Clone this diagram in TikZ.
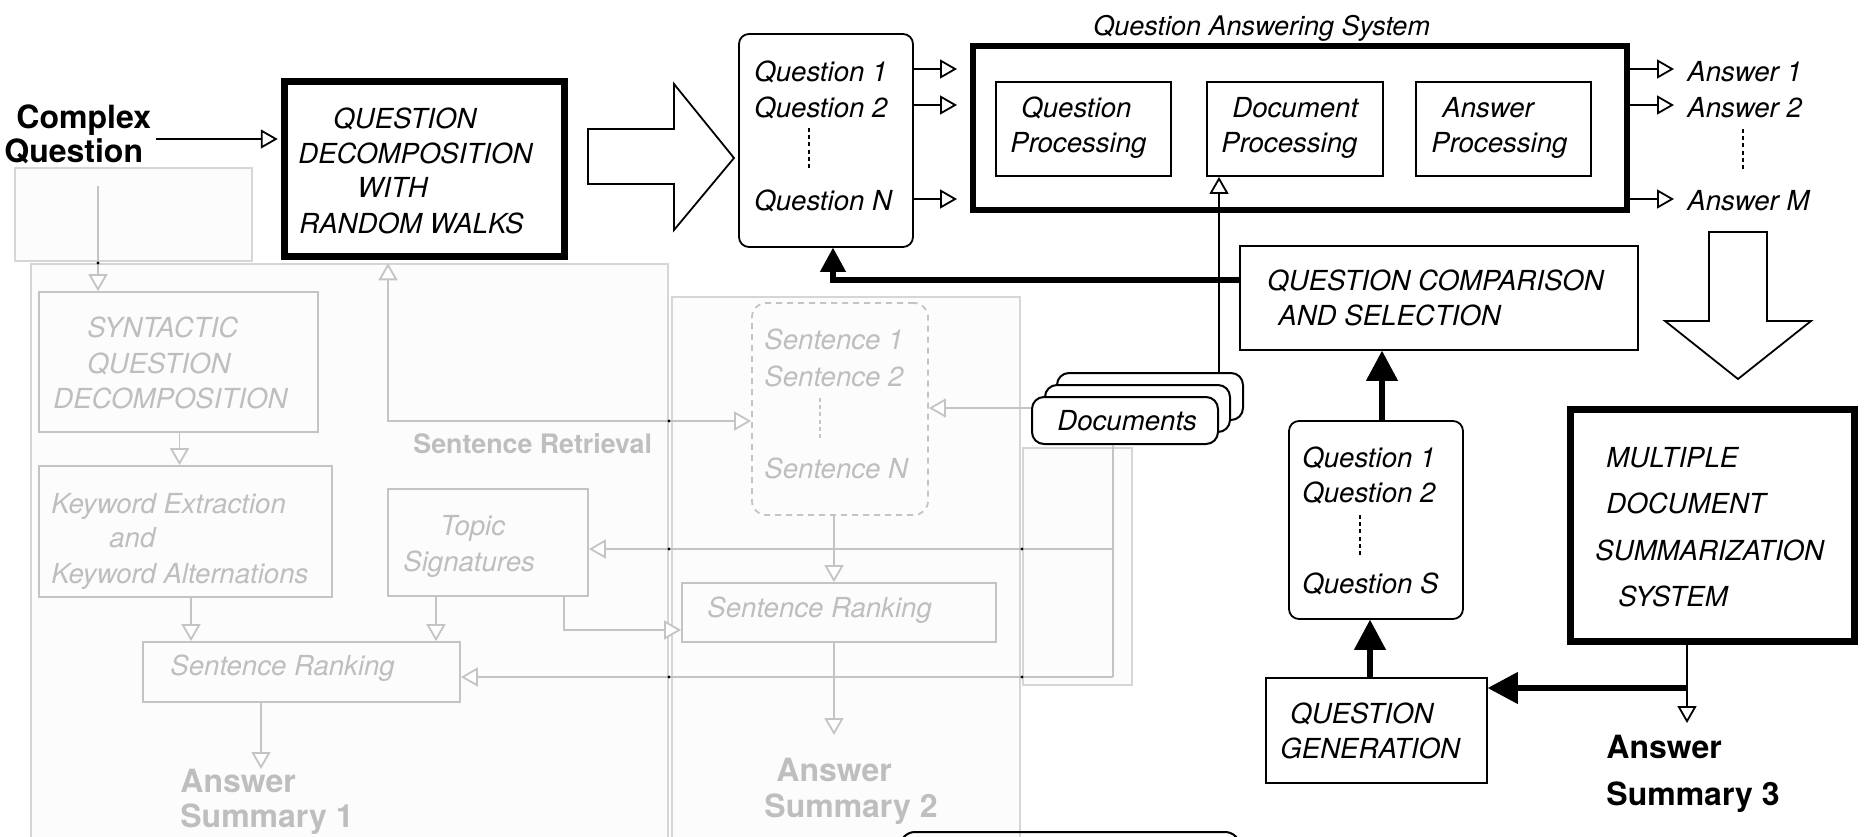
\documentclass[tikz,border=0pt]{standalone}
\usepackage{fontspec}
\setmainfont{TeX Gyre Heros}
\usetikzlibrary{arrows.meta,fit}
\definecolor{ln}{RGB}{196,196,196}
\definecolor{tx}{RGB}{190,190,190}
\definecolor{pn}{RGB}{214,214,214}
\definecolor{pf}{RGB}{252,252,252}
\tikzset{
  box/.style={draw, line width=0.9pt, inner sep=0pt},
  rbox/.style={box, rounded corners=5pt},
  heavy/.style={draw, inner sep=0pt, line width=3.2pt},
  gbox/.style={draw=ln, line width=0.9pt, inner sep=0pt},
  panel/.style={draw=pn, line width=0.6pt, fill=pf, inner sep=0pt},
  docbox/.style={draw, line width=1pt, fill=white, inner sep=0pt, rounded corners=6pt},
  it/.style={font=\itshape\fontsize{13.8}{16}\selectfont, inner sep=0pt, anchor=base west},
  git/.style={it, text=tx},
  bf/.style={font=\bfseries\fontsize{16}{18}\selectfont, inner sep=0pt, anchor=base west},
  gbf/.style={bf, text=tx},
  otip/.tip={Triangle[length=8.5pt,width=9.5pt,fill=white]},
  ttip/.tip={Triangle[length=15pt,width=16pt,line width=0.4pt]},
  oarrow/.style={line width=0.9pt, -otip},
  garrow/.style={draw=ln, line width=0.9pt, -otip},
  gline/.style={draw=ln, line width=0.9pt},
  tarrow/.style={line width=3pt, -ttip},
  vdots/.style={line width=0.6pt, dash pattern=on 2pt off 1.6pt},
  jdot/.style={fill=black},
}
\begin{document}
\begin{tikzpicture}[x=0.5pt,y=-0.5pt]
\useasboundingbox (0,0) rectangle (1864,836);
\clip (0,0) rectangle (1864,836);

% ---------------- grey panels ----------------
\node[panel, fit={(15,168)(252,261)}] (pA) {};
\node[panel, fit={(31,264)(668,880)}] (pB) {};
\node[panel, fit={(672,297)(1020,880)}] (pC) {};
\node[panel, fit={(1023,448)(1132,685)}] (pD) {};

% ---------------- grey boxes ----------------
\node[gbox, fit={(39,292)(318,432)}] (syn) {};
\node[git] (syn1) at (87,337) {SYNTACTIC};
\node[git] (syn2) at (87,373) {QUESTION};
\node[git] (syn3) at (53,408) {DECOMPOSITION};

\node[gbox, fit={(39,466)(332,597)}] (kw) {};
\node[git] (kw1) at (51,513) {Keyword Extraction};
\node[git] (kw2) at (109,547) {and};
\node[git] (kw3) at (51,583) {Keyword Alternations};

\node[gbox, fit={(388,489)(588,596)}] (ts) {};
\node[git] (ts1) at (440,535) {Topic};
\node[git] (ts2) at (403,571) {Signatures};

\node[gbox, fit={(143,642)(460,702)}] (sr1) {};
\node[git] (sr1t) at (170,675) {Sentence Ranking};

\node[gbox, dash pattern=on 3pt off 2.5pt, rounded corners=7pt, fit={(752,303)(928,515)}] (sent) {};
\node[git] (se1) at (764,349) {Sentence 1};
\node[git] (se2) at (764,386) {Sentence 2};
\draw[vdots, draw=ln] (820,398) -- (820,438);
\node[git] (se3) at (764,478) {Sentence N};

\node[gbox, fit={(682,583)(996,642)}] (sr2) {};
\node[git] (sr2t) at (707,617) {Sentence Ranking};

\node[gbf, font=\bfseries\fontsize{13.4}{16}\selectfont] (sret) at (413,453) {Sentence Retrieval};

\node[gbf] (as1a) at (180,792) {Answer};
\node[gbf] (as1b) at (180,827) {Summary 1};
\node[gbf] (as2a) at (776,781) {Answer};
\node[gbf] (as2b) at (764,817) {Summary 2};

% ---------------- black main boxes ----------------
\node[heavy, line width=3.3pt, fit={(284.25,81.25)(564.75,256.75)}] (qdrw) {};
\node[it] (qd1) at (333,128) {QUESTION};
\node[it] (qd2) at (298,163) {DECOMPOSITION};
\node[it] (qd3) at (357,197) {WITH};
\node[it] (qd4) at (299,233) {RANDOM WALKS};

\node[bf] (cq1) at (16,128) {Complex};
\node[bf] (cq2) at (4,162) {Question};

\node[rbox, fit={(739,34)(913,247)}] (qs) {};
\node[it] (q1) at (754,81) {Question 1};
\node[it] (q2) at (754,117) {Question 2};
\draw[vdots] (809,128) -- (809,171);
\node[it] (qn) at (754,210) {Question N};

\node[heavy, line width=3pt, fit={(973,46)(1627,209.5)}] (qa) {};
\node[it, font=\itshape\fontsize{13.5}{16}\selectfont] (qat) at (1093,35) {Question Answering System};
\node[box, fit={(996,82)(1171,176)}] (qp) {};
\node[it] (qp1) at (1021,117) {Question};
\node[it] (qp2) at (1010,152) {Processing};
\node[box, fit={(1207,82)(1383,176)}] (dp) {};
\node[it] (dp1) at (1232,117) {Document};
\node[it] (dp2) at (1221,152) {Processing};
\node[box, fit={(1416,82)(1591,176)}] (ap) {};
\node[it] (ap1) at (1442,117) {Answer};
\node[it] (ap2) at (1431,152) {Processing};

\node[it] (a1) at (1687,81) {Answer 1};
\node[it] (a2) at (1687,117) {Answer 2};
\draw[vdots] (1743,129) -- (1743,171);
\node[it] (am) at (1687,210) {Answer M};

\node[box, fit={(1240,246)(1638,350)}] (qcs) {};
\node[it] (qc1) at (1267,290) {QUESTION COMPARISON};
\node[it] (qc2) at (1278,325) {AND SELECTION};

\node[docbox, fit={(1057,373)(1243,420)}] (doc3) {};
\node[docbox, fit={(1045,385)(1230,432)}] (doc2) {};
\node[docbox, fit={(1032,397)(1218,444)}] (doc1) {};
\node[it] (doct) at (1057,430) {Documents};

\node[rbox, fit={(1289,421)(1463,619)}] (qs2) {};
\node[it] (r1) at (1302,467) {Question 1};
\node[it] (r2) at (1302,502) {Question 2};
\draw[vdots] (1360,515) -- (1360,557);
\node[it] (rs) at (1302,593) {Question S};

\node[box, fit={(1266,678)(1487,783)}] (qg) {};
\node[it] (qg1) at (1290,723) {QUESTION};
\node[it] (qg2) at (1280,758) {GENERATION};

\node[heavy, line width=3.5pt, fit={(1570.5,409.5)(1854.5,641.5)}] (mds) {};
\node[it] (m1) at (1606,467) {MULTIPLE};
\node[it] (m2) at (1606,513) {DOCUMENT};
\node[it] (m3) at (1595,560) {SUMMARIZATION};
\node[it] (m4) at (1618,606) {SYSTEM};

\node[bf] (as3a) at (1606,758) {Answer};
\node[bf] (as3b) at (1606,805) {Summary 3};

\node[draw, line width=1pt, rounded corners=7.5pt, inner sep=0pt, fit={(900,832)(1240,900)}] (bot) {};

% ---------------- block arrows ----------------
\draw[line width=0.9pt, fill=white] (588,129) -- (674,129) -- (674,84) -- (734,158) -- (674,230) -- (674,184) -- (588,184) -- cycle;
\draw[line width=0.9pt, fill=white] (1709,232) -- (1767,232) -- (1767,321) -- (1811,321) -- (1738,379) -- (1665,321) -- (1709,321) -- cycle;

% ---------------- coordinates ----------------
\coordinate (cqo) at (156,139);
\coordinate (pAo) at (98,186);
\coordinate (dj1) at (1113,549);
\coordinate (dj2) at (1113,677);
\coordinate (tsj) at (564,630);
\coordinate (ret) at (388,421);
\coordinate (as1in) at (261,769);
\coordinate (as2in) at (834,735);
\coordinate (mj) at (1687,688);
\coordinate (as3in) at (1687,723);

% ---------------- grey connectors ----------------
\draw[garrow] (pAo) -- (pAo |- syn.north);
\draw[garrow] (syn.south -| 179.5,0) -- (kw.north -| 179.5,0);
\draw[garrow] (kw.south -| 191,0) -- (sr1.north -| 191,0);
\draw[garrow] (ts.south -| 436,0) -- (sr1.north -| 436,0);
\draw[garrow] (ts.south -| tsj) -- (tsj) -- (tsj -| sr2.west);
\draw[gline] (doc1.south -| dj1) -- (dj2);
\draw[garrow] (dj1) -- (dj1 -| ts.east);
\draw[garrow] (dj2) -- (dj2 -| sr1.east);
\draw[garrow] (doc1.west |- 0,408) -- (sent.east |- 0,408);
\draw[garrow] (sent.south -| 834,0) -- (sr2.north -| 834,0);
\draw[garrow] (sr2.south -| as2in) -- (as2in);
\draw[garrow] (sr1.south -| as1in) -- (as1in);
\draw[gline, otip-otip, shorten <=1.6pt] (qdrw.south -| ret) -- (ret) -- (ret -| sent.west);

% junction dots
\foreach \p in {(98,263),(669,421),(669,549),(669,677),(1022,549),(1022,677)}
  \fill[jdot] \p circle (0.8pt);

% ---------------- black connectors ----------------
\draw[oarrow, shorten >=1.6pt] (cqo) -- (cqo -| qdrw.west);
\draw[oarrow, shorten >=6.5pt] (qs.east |- 0,69) -- (qa.west |- 0,69);
\draw[oarrow, shorten >=6.5pt] (qs.east |- 0,105) -- (qa.west |- 0,105);
\draw[oarrow, shorten >=6.5pt] (qs.east |- 0,199) -- (qa.west |- 0,199);
\draw[oarrow, shorten >=6.5pt] (qa.east |- 0,69) -- (a1.west |- 0,69);
\draw[oarrow, shorten >=6.5pt] (qa.east |- 0,105) -- (a2.west |- 0,105);
\draw[oarrow, shorten >=6.5pt] (qa.east |- 0,199) -- (am.west |- 0,199);
\draw[oarrow] (doc3.north -| 1219,0) -- (dp.south -| 1219,0);
\draw[tarrow, -{Triangle[length=12pt,width=13pt,line width=0.4pt]}] (qcs.west |- 0,280) -| ([xshift=3.5pt]qs.south);
\draw[tarrow] (qs2.north -| 1382,0) -- (qcs.south -| 1382,0);
\draw[tarrow] (qg.north -| 1370,0) -- (qs2.south -| 1370,0);
\draw[oarrow] (mds.south -| mj) -- (as3in);
\draw[tarrow] (mj) -- (mj -| qg.east);

\end{tikzpicture}
\end{document}
